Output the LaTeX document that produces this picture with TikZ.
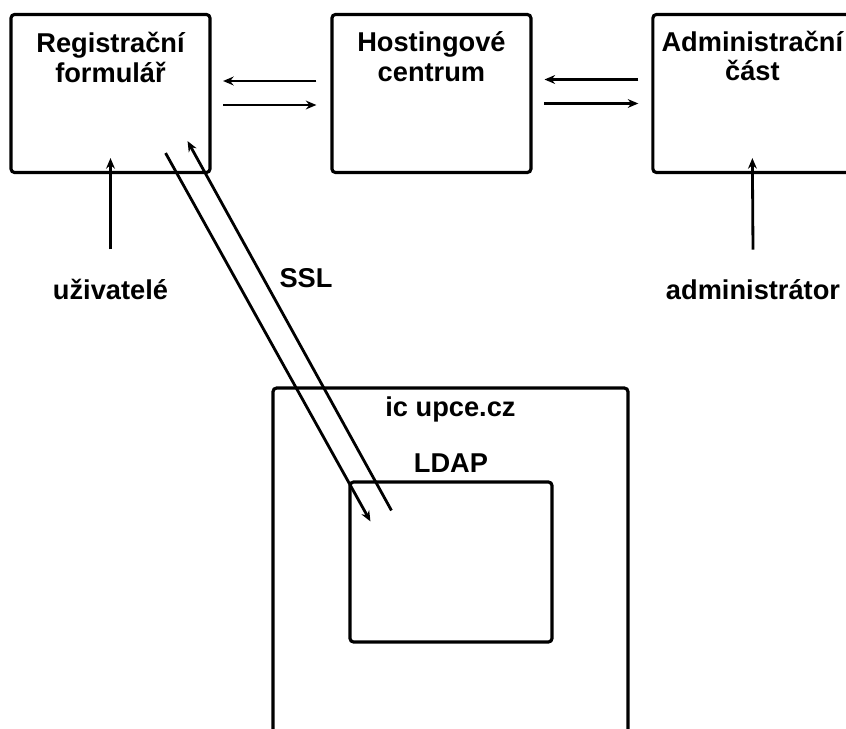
\documentclass[tikz,border=0pt]{standalone}
\usepackage{fontspec}
\setmainfont{Liberation Sans}
\usetikzlibrary{arrows.meta, positioning}
\tikzstyle{rec} = [rectangle, rounded corners=2pt, minimum width=3.98cm, minimum height=3.16cm, draw=black, line width=1.8pt]
\tikzstyle{txt} = [align=center, inner sep=0pt, font=\bfseries\fontsize{15.5}{17}\selectfont]
\tikzstyle{arrow} = [line width=1.6pt,->,>={Stealth[length=6pt,width=5pt]}]

\begin{document}
\begin{tikzpicture}[x=0.02cm, y=0.02cm, node distance=6.42cm]
		\useasboundingbox (0,0) rectangle (846,728);
		\node (reg) [rec] at (110.5,634.5) {};
		\node (reg_txt) [txt, below=0.38cm of reg.north] {Registrační\\formulář};
		\node (host) [rec, right of=reg] {};
		\node (host_txt) [txt, below=0.37cm of host.north] {Hostingové\\centrum};
		\node (admin) [rec, right of=host] {};
		\node (admin_txt) [txt, below=0.35cm of admin.north] {Administrační\\část};
		\draw [arrow] ([xshift=-0.28cm,yshift=0.25cm]host.west) -- ([xshift=0.23cm,yshift=0.25cm]reg.east);
		\draw [arrow] ([xshift=0.23cm,yshift=-0.23cm]reg.east) -- ([xshift=-0.28cm,yshift=-0.23cm]host.west);
		\draw [arrow] ([xshift=-0.26cm,yshift=0.28cm]admin.west) -- ([xshift=0.24cm,yshift=0.28cm]host.east);
		\draw [arrow] ([xshift=0.24cm,yshift=-0.2cm]host.east) -- ([xshift=-0.26cm,yshift=-0.2cm]admin.west);
		\node (users) [txt, anchor=base] at (110.5,428) {uživatelé};
		\draw [arrow] ([yshift=0.6cm]users.north) -- ([yshift=0.32cm]reg.south);
		\node (admins) [txt, anchor=base] at (753,428) {administrátor};
		\draw [arrow] ([yshift=0.6cm]admins.north) -- ([yshift=0.32cm]admin.south);
		\node (ic) [rec, minimum width=7.1cm, minimum height=7.4cm] at (450.5,155) {};
		\node (ic_txt) [txt, below=0.2cm of ic.north] {ic upce.cz};
		\node (ldap) [rec, minimum width=4.04cm, minimum height=3.2cm] at (451,166) {};
		\node (ldap_txt) [txt, above=0.16cm of ldap.north] {LDAP};
		\node (ssl) [txt, anchor=base] at (306,440) {SSL};
		\draw [arrow] ([xshift=-0.92cm,yshift=0.42cm]reg.south east) -- ([xshift=0.44cm,yshift=-0.82cm]ldap.north west);
		\draw [arrow] ([xshift=0.86cm,yshift=-0.6cm]ldap.north west) -- ([xshift=-0.48cm,yshift=0.66cm]reg.south east);
\end{tikzpicture}
\end{document}
